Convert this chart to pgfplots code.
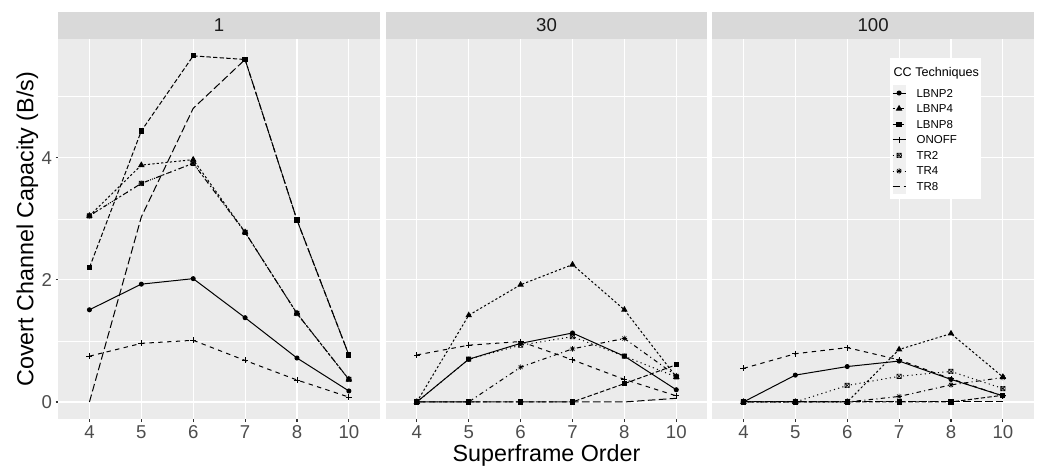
\documentclass[border=0pt]{standalone}
\usepackage{pgfplots}
\usepackage{pgfplotstable}
\pgfplotsset{compat=1.18}
\usetikzlibrary{plotmarks}
\usepackage{fontspec}
\setmainfont{Liberation Sans}

\definecolor{panelbg}{HTML}{EBEBEB}
\definecolor{stripbg}{HTML}{D9D9D9}
\definecolor{ticklab}{HTML}{4D4D4D}
\definecolor{tickcol}{HTML}{333333}
\definecolor{keybg}{HTML}{F0F0F0}
\definecolor{striptext}{HTML}{1A1A1A}

\pgfdeclareplotmark{boxx}{%
  \pgfpathrectangle{\pgfpoint{-\pgfplotmarksize}{-\pgfplotmarksize}}{\pgfpoint{2\pgfplotmarksize}{2\pgfplotmarksize}}%
  \pgfpathmoveto{\pgfpoint{-\pgfplotmarksize}{-\pgfplotmarksize}}\pgfpathlineto{\pgfpoint{\pgfplotmarksize}{\pgfplotmarksize}}%
  \pgfpathmoveto{\pgfpoint{-\pgfplotmarksize}{\pgfplotmarksize}}\pgfpathlineto{\pgfpoint{\pgfplotmarksize}{-\pgfplotmarksize}}%
  \pgfusepathqstroke}
\pgfdeclareplotmark{ast8}{%
  \pgfpathmoveto{\pgfpoint{-\pgfplotmarksize}{0pt}}\pgfpathlineto{\pgfpoint{\pgfplotmarksize}{0pt}}%
  \pgfpathmoveto{\pgfpoint{0pt}{-\pgfplotmarksize}}\pgfpathlineto{\pgfpoint{0pt}{\pgfplotmarksize}}%
  \pgfpathmoveto{\pgfpoint{-.707\pgfplotmarksize}{-.707\pgfplotmarksize}}\pgfpathlineto{\pgfpoint{.707\pgfplotmarksize}{.707\pgfplotmarksize}}%
  \pgfpathmoveto{\pgfpoint{-.707\pgfplotmarksize}{.707\pgfplotmarksize}}\pgfpathlineto{\pgfpoint{.707\pgfplotmarksize}{-.707\pgfplotmarksize}}%
  \pgfusepathqstroke}

% categories 4,5,6,7,8,10 are plotted at 1..6
\pgfplotstableread{
x LBNP2 LBNP4 LBNP8 ONOFF TR2 TR4 TR8
1 1.51 3.05 2.20 0.75 3.05 3.05 0.00
2 1.93 3.88 4.44 0.96 3.58 3.58 3.03
3 2.02 3.97 5.67 1.01 3.91 3.91 4.81
4 1.38 2.78 5.61 0.68 2.78 2.78 5.61
5 0.72 1.45 2.98 0.36 1.45 1.45 2.98
6 0.18 0.37 0.77 0.08 0.37 0.37 0.77
}\dataA
\pgfplotstableread{
x LBNP2 LBNP4 LBNP8 ONOFF TR2 TR4 TR8
1 0.00 0.00 0.00 0.77 0.00 0.00 0.00
2 0.70 1.42 0.00 0.93 0.70 0.00 0.00
3 0.96 1.92 0.00 0.99 0.93 0.57 0.00
4 1.13 2.25 0.00 0.69 1.07 0.87 0.00
5 0.75 1.51 0.30 0.37 0.75 1.04 0.00
6 0.20 0.41 0.61 0.10 0.41 0.43 0.06
}\dataB
\pgfplotstableread{
x LBNP2 LBNP4 LBNP8 ONOFF TR2 TR4 TR8
1 0.00 0.00 0.00 0.55 0.00 0.00 0.00
2 0.44 0.00 0.00 0.79 0.00 0.00 0.00
3 0.58 0.00 0.00 0.89 0.27 0.00 0.00
4 0.67 0.86 0.00 0.69 0.42 0.09 0.00
5 0.37 1.12 0.00 0.38 0.50 0.28 0.00
6 0.10 0.41 0.11 0.10 0.22 0.40 0.00
}\dataC

\pgfplotsset{
  panel/.style={
    scale only axis, width=321.7pt, height=380.3pt,
    anchor=south west,
    xmin=0.4, xmax=6.6, ymin=-0.284, ymax=5.946,
    axis background/.style={fill=panelbg},
    axis line style={draw=none},
    xtick={1,2,3,4,5,6}, xticklabels={4,5,6,7,8,10},
    ytick={0,2,4}, minor ytick={1,3,5},
    xmajorgrids, ymajorgrids, yminorgrids,
    major grid style={white, line width=1.1pt},
    minor grid style={white, line width=0.55pt},
    tick align=outside, tick pos=left,
    major tick length=2.75pt, minor tick length=0pt,
    tick style={tickcol, line width=1.1pt},
    ticklabel style={font=\fontsize{18.6}{20}\selectfont, text=ticklab, inner sep=0pt},
    xticklabel style={anchor=north, yshift=-3pt},
    yticklabel style={anchor=east, xshift=-3.5pt},
    every axis title shift=0pt,
    title style={at={(0.5,1)}, anchor=south, yshift=0pt, fill=stripbg, minimum width=321.7pt,
      minimum height=26.7pt, inner sep=0pt, text=striptext, font=\fontsize{18.6}{20}\selectfont},
    every axis plot/.append style={line width=1pt},
  },
  sLBNP2/.style={black, solid, mark=*, mark size=2pt, mark options={solid}},
  sLBNP4/.style={black, dash pattern=on 2.2pt off 2.2pt, mark=triangle*, mark size=2.8pt, mark options={solid}},
  sLBNP8/.style={black, dash pattern=on 4.4pt off 2.2pt, mark=square*, mark size=2.1pt, mark options={solid}},
  sONOFF/.style={black, dash pattern=on 4.4pt off 4.4pt, mark=+, mark size=3pt, mark options={solid, line width=0.8pt}},
  sTR2/.style={black, dash pattern=on 1.1pt off 3.3pt, mark=boxx, mark size=2.2pt, mark options={solid, line width=0.6pt}},
  sTR4/.style={black, dash pattern=on 1.1pt off 3.3pt on 4.4pt off 3.3pt, mark=ast8, mark size=2.8pt, mark options={solid, line width=0.6pt}},
  sTR8/.style={black, dash pattern=on 7.7pt off 3.3pt},
}

\begin{document}
\begin{tikzpicture}
\useasboundingbox (0pt,0pt) rectangle (1038pt,466pt);

\begin{axis}[panel, at={(58.3pt,46.7pt)}, title={1},
  yticklabels={0,2,4},
  ylabel={Covert Channel Capacity (B/s)},
  every axis y label/.style={at={(axis description cs:-0.0777,0.5)}, rotate=90, anchor=base,
    font=\fontsize{23.3}{26}\selectfont, text=black},
]
\addplot[sLBNP2] table[x=x,y=LBNP2]{\dataA};
\addplot[sLBNP4] table[x=x,y=LBNP4]{\dataA};
\addplot[sLBNP8] table[x=x,y=LBNP8]{\dataA};
\addplot[sONOFF] table[x=x,y=ONOFF]{\dataA};
\addplot[sTR2] table[x=x,y=TR2]{\dataA};
\addplot[sTR4] table[x=x,y=TR4]{\dataA};
\addplot[sTR8] table[x=x,y=TR8]{\dataA};
\end{axis}

\begin{axis}[panel, at={(385.7pt,46.7pt)}, title={30},
  yticklabels={,,}, ytick style={draw=none},
  xlabel={Superframe Order},
  every axis x label/.style={at={(axis description cs:0.5,-0.1097)}, anchor=base,
    font=\fontsize{23.3}{26}\selectfont, text=black},
]
\addplot[sLBNP2] table[x=x,y=LBNP2]{\dataB};
\addplot[sLBNP4] table[x=x,y=LBNP4]{\dataB};
\addplot[sLBNP8] table[x=x,y=LBNP8]{\dataB};
\addplot[sONOFF] table[x=x,y=ONOFF]{\dataB};
\addplot[sTR2] table[x=x,y=TR2]{\dataB};
\addplot[sTR4] table[x=x,y=TR4]{\dataB};
\addplot[sTR8] table[x=x,y=TR8]{\dataB};
\end{axis}

\begin{axis}[panel, at={(712.3pt,46.7pt)}, title={100},
  yticklabels={,,}, ytick style={draw=none},
  legend cell align=left,
  legend style={at={(axis description cs:0.552,0.950)}, anchor=north west,
    fill=white, draw=none, inner xsep=2pt, inner ysep=5pt, row sep=0pt,
    font=\fontsize{11.5}{13}\selectfont,
    nodes={inner sep=0pt, text depth=0pt}, cells={anchor=west}},
  legend image code/.code={
    \fill[keybg, draw=none] (0pt,-7.8pt) rectangle (13pt,7.8pt);
    \path[draw=none] (0pt,0pt) (24pt,0pt);
    \draw[mark repeat=2, mark phase=2, #1] plot coordinates {(0pt,0pt) (6.5pt,0pt) (13pt,0pt)};
  },
]
\addlegendimage{legend image code/.code={\path[draw=none, fill=none] (0pt,-13pt) (0pt,9pt);}}
\addlegendentry{\hspace{-23pt}\fontsize{12.6}{14}\selectfont CC Techniques\hspace{10pt}}
\addplot[sLBNP2] table[x=x,y=LBNP2]{\dataC};
\addlegendentry{LBNP2}
\addplot[sLBNP4] table[x=x,y=LBNP4]{\dataC};
\addlegendentry{LBNP4}
\addplot[sLBNP8] table[x=x,y=LBNP8]{\dataC};
\addlegendentry{LBNP8}
\addplot[sONOFF] table[x=x,y=ONOFF]{\dataC};
\addlegendentry{ONOFF}
\addplot[sTR2] table[x=x,y=TR2]{\dataC};
\addlegendentry{TR2}
\addplot[sTR4] table[x=x,y=TR4]{\dataC};
\addlegendentry{TR4}
\addplot[sTR8] table[x=x,y=TR8]{\dataC};
\addlegendentry{TR8}
\end{axis}
\end{tikzpicture}
\end{document}
